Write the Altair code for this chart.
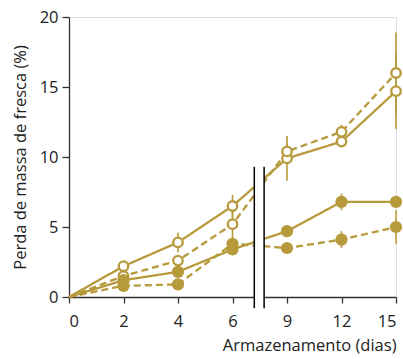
import altair as alt
import pandas as pd

# ---- data ----
days = [0, 2, 4, 6, 9, 12, 15]
positions = [0, 1, 2, 3, 4, 5, 6]          # equally spaced slots on the broken axis
x_tick_labels = ["0", "2", "4", "6", "9", "12", "15"]
y_ticks = [0, 5, 10, 15, 20]

open_solid = [0, 2.2, 3.9, 6.5, 9.9, 11.1, 14.7]
open_solid_err = [0, 0.3, 0.7, 0.8, 1.6, 0.3, 2.7]
open_dashed = [0, 1.5, 2.6, 5.2, 10.4, 11.8, 16.0]
open_dashed_err = [0, 0.3, 0.4, 1.0, 0.6, 0.5, 2.9]
filled_solid = [0, 1.2, 1.8, 3.4, 4.7, 6.8, 6.8]
filled_solid_err = [0, 0.2, 0.3, 0.3, 0.3, 0.6, 0.3]
filled_dashed = [0, 0.8, 0.9, 3.8, 3.5, 4.1, 5.0]
filled_dashed_err = [0, 0.3, 0.3, 0.5, 0.3, 0.6, 1.2]

break_left, break_right = 3.40, 3.58
break_bottom, break_top = -0.8, 9.3

GOLD = "#b79a3b"
FONT = "Open Sans"
FS = 16.5

series = [
    ("open_solid", open_solid, open_solid_err, "open", "solid"),
    ("open_dashed", open_dashed, open_dashed_err, "open", "dashed"),
    ("filled_solid", filled_solid, filled_solid_err, "filled", "solid"),
    ("filled_dashed", filled_dashed, filled_dashed_err, "filled", "dashed"),
]
rows = []
for name, vals, errs, fill, dash in series:
    for p, d, v, e in zip(positions, days, vals, errs):
        rows.append(dict(series=name, pos=p, day=d, value=v, lo=v - e, hi=v + e,
                         fill=fill, dash=dash))
df = pd.DataFrame(rows)

label_expr = "datum.value <= 3 ? format(datum.value * 2, 'd') : format(datum.value * 3 - 3, 'd')"

x = alt.X("pos:Q",
          scale=alt.Scale(domain=[0, 6], nice=False, zero=False),
          axis=alt.Axis(values=positions, labelExpr=label_expr, title="Armazenamento (dias)",
                        grid=False, zindex=0, titleAnchor="end", titleAlign="right",
                        tickSize=6, labelPadding=10, titlePadding=8,
                        domainColor="#333", tickColor="#333", domainWidth=1.3, tickWidth=1.3,
                        labelFontSize=FS, titleFontSize=FS, labelFont=FONT, titleFont=FONT,
                        labelColor="#222", titleColor="#222", titleFontWeight="normal"))
y = alt.Y("value:Q",
          scale=alt.Scale(domain=[0, 20], nice=False),
          axis=alt.Axis(values=y_ticks, title="Perda de massa de fresca (%)", grid=False, zindex=0,
                        tickSize=7, labelPadding=4, titlePadding=11,
                        domainColor="#333", tickColor="#333", domainWidth=1.3, tickWidth=1.3,
                        labelFontSize=FS, titleFontSize=FS, labelFont=FONT, titleFont=FONT,
                        labelColor="#222", titleColor="#222", titleFontWeight="normal"))

base = alt.Chart(df)

lines = base.mark_line(color=GOLD, strokeWidth=2.3).encode(
    x=x, y=y, detail="series:N",
    strokeDash=alt.StrokeDash("dash:N", scale=alt.Scale(domain=["solid", "dashed"],
                                                        range=[[1, 0], [7, 4]]), legend=None),
)

errs = base.transform_filter("datum.pos > 0").mark_rule(color=GOLD, strokeWidth=1.6).encode(
    x="pos:Q", y="lo:Q", y2="hi:Q")

open_pts = base.transform_filter("datum.pos > 0 && datum.fill == 'open'").mark_point(
    shape="circle", filled=False, fill="white", fillOpacity=1, stroke=GOLD, strokeWidth=2.3,
    size=90, opacity=1).encode(x="pos:Q", y="value:Q")

filled_pts = base.transform_filter("datum.pos > 0 && datum.fill == 'filled'").mark_circle(
    color=GOLD, size=150, opacity=1).encode(x="pos:Q", y="value:Q")

brk = pd.DataFrame({"x1": [break_left], "x2": [break_right], "y1": [break_bottom], "y2": [break_top]})
brk_rect = alt.Chart(brk).mark_rect(color="white").encode(
    x="x1:Q", x2="x2:Q", y="y1:Q", y2="y2:Q")

brk_lines_df = pd.DataFrame({"bx": [break_left, break_right], "y1": [break_bottom] * 2,
                             "y2": [break_top] * 2})
brk_lines = alt.Chart(brk_lines_df).mark_rule(color="black", strokeWidth=1.5).encode(
    x="bx:Q", y="y1:Q", y2="y2:Q")

chart = alt.layer(lines, errs, brk_rect, brk_lines, open_pts, filled_pts).properties(
    width=327, height=280,
    padding={"left": 69, "top": 17, "right": 7, "bottom": 62},
    autosize=alt.AutoSizeParams(type="none"),
).configure_view(stroke=None).configure(background="white")

chart.save("out.html", embed_options={"renderer": "svg", "actions": False})
